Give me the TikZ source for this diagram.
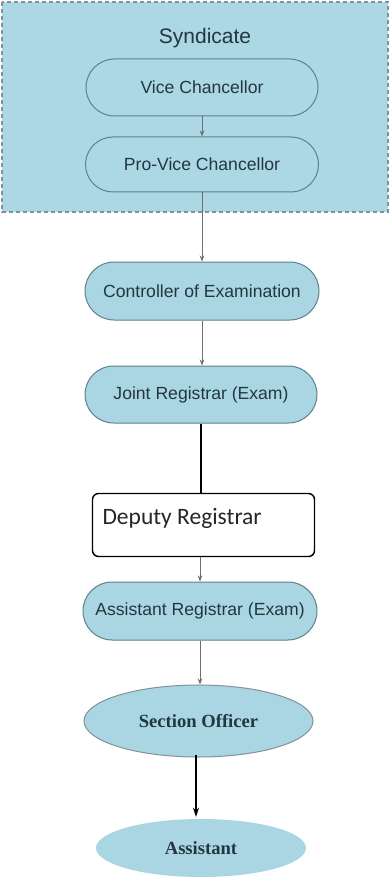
\documentclass[tikz,border=0pt]{standalone}
\usepackage{fontspec}
\setmainfont{Liberation Sans}
\newfontfamily\calibrifont{Carlito}
\newfontfamily\timesfont{Liberation Serif}
\usetikzlibrary{shapes.misc,shapes.geometric,arrows.meta}
\definecolor{panelblue}{RGB}{172,215,228}
\definecolor{boxblue}{RGB}{170,214,227}
\definecolor{edgeteal}{RGB}{95,128,140}
\definecolor{labelink}{RGB}{35,55,65}
\definecolor{wiregray}{RGB}{110,110,110}
\definecolor{dashgray}{RGB}{130,145,150}
\tikzset{
  pill/.style={rounded rectangle, draw=edgeteal, line width=1pt, inner sep=0pt,
    text=labelink, font=\fontsize{17.6}{20}\selectfont},
  bluepill/.style={pill, fill=boxblue},
  oval/.style={ellipse, fill=boxblue, inner sep=0pt, text=labelink,
    font=\timesfont\bfseries\fontsize{18.6}{21}\selectfont},
  wire/.style={draw=wiregray, line width=0.8pt, -{Stealth[length=6pt,width=4.5pt]}},
  boldwire/.style={draw=black, line width=1.6pt},
}
\begin{document}
\begin{tikzpicture}[x=1pt,y=-1pt]
\useasboundingbox (0,0) rectangle (390,877);
\fill[white] (0,0) rectangle (390,877);
% Syndicate panel
\draw[fill=panelblue, draw=dashgray, line width=1.5pt, dash pattern=on 4pt off 3pt]
  (2,2) rectangle (388,212);
\node[text=labelink, font=\fontsize{21}{24}\selectfont] (syn) at (205,38) {Syndicate};
\node[pill, minimum width=232pt, minimum height=57pt] (vc) at (202,87.5) {Vice Chancellor};
\node[pill, minimum width=233pt, minimum height=55pt] (pvc) at (202,164.5) {Pro-Vice Chancellor};
% Examination chain
\node[bluepill, minimum width=234pt, minimum height=58pt] (coe) at (202,291) {Controller of Examination};
\node[bluepill, minimum width=232pt, minimum height=57pt] (jr) at (201,394.5) {Joint Registrar (Exam)};
\node[draw=black, line width=1.4pt, rounded corners=6pt, fill=white, minimum width=222pt,
  minimum height=63pt, inner sep=0pt] (dr) at (203.5,525) {};
\node[anchor=west, font=\calibrifont\fontsize{23.5}{26}\selectfont, text=black!85] (drt)
  at (99,518) {Deputy Registrar};
\node[bluepill, minimum width=234pt, minimum height=58pt] (ar) at (200,611) {Assistant Registrar (Exam)};
\node[oval, draw=dashgray, line width=1pt, minimum width=229pt, minimum height=72pt] (so) at (198.5,721) {Section Officer};
\node[oval, minimum width=210pt, minimum height=58pt] (as) at (201,848) {Assistant};
% Connectors
\draw[wire] (vc.south) -- (pvc.north);
\draw[wire] (pvc.south) -- (pvc.south |- coe.north);
\draw[wire] (coe.south) -- (coe.south |- jr.north);
\draw[boldwire] (jr.south) -- (jr.south |- dr.north);
\draw[wire] (dr.south -| ar.north) -- (ar.north);
\draw[wire] (ar.south) -- (ar.south |- so.north);
\draw[boldwire, -{Stealth[length=9pt,width=6pt]}] ([xshift=-2.5pt,yshift=3pt]so.south)
  -- ([xshift=-2.5pt,yshift=2pt]so.south |- as.north);
\end{tikzpicture}
\end{document}
